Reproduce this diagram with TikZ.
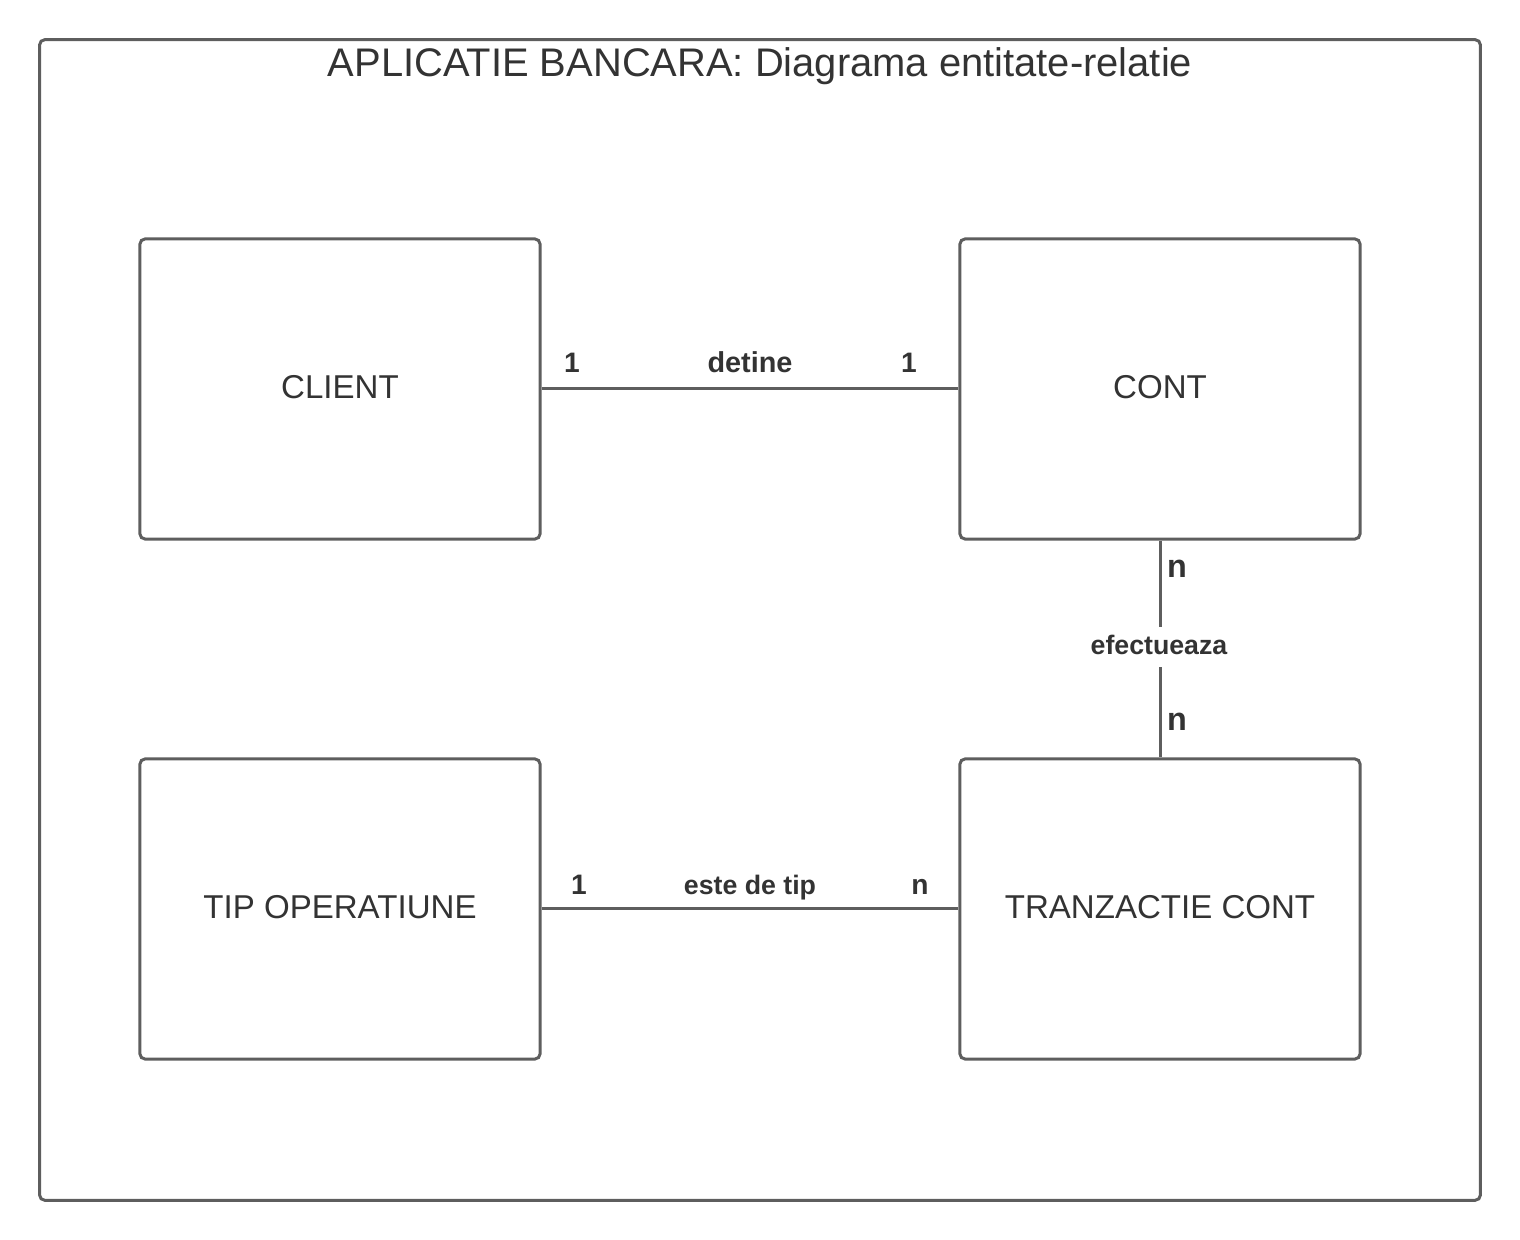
\documentclass[tikz,border=0pt]{standalone}
\usepackage{fontspec}
\setmainfont{Liberation Sans}
\definecolor{linec}{HTML}{5E5E5E}
\definecolor{textc}{HTML}{333333}
\tikzset{
  entity/.style={draw=linec, line width=0.85pt, rounded corners=1.5pt, minimum width=4cm, minimum height=3cm, inner sep=0pt, text=textc, font=\fontsize{9.4pt}{11pt}\selectfont},
  conn/.style={draw=linec, line width=0.85pt},
  lbl/.style={text=textc, inner sep=1pt, anchor=base, font=\fontsize{8pt}{9.6pt}\selectfont\bfseries},
  lblsmall/.style={lbl, font=\fontsize{7.6pt}{9pt}\selectfont\bfseries},
  lblbig/.style={lbl, font=\fontsize{9.2pt}{11pt}\selectfont\bfseries},
}
\begin{document}
\begin{tikzpicture}[x=0.01cm,y=-0.01cm]
\useasboundingbox (0,0) rectangle (1520,1240);
\node[draw=linec, line width=0.85pt, rounded corners=1.5pt, minimum width=14.4cm, minimum height=11.6cm, inner sep=0pt] (frame) at (760,620) {};
\node[text=textc, inner sep=0pt, anchor=base, font=\fontsize{11.35pt}{13pt}\selectfont] (title) at (760,77) {APLICATIE BANCARA: Diagrama entitate-relatie};
\node[entity] (client) at (340,389) {\raisebox{1pt}{CLIENT}};
\node[entity] (cont) at (1160,389) {\raisebox{1pt}{CONT}};
\node[entity] (tip) at (340,909) {\raisebox{1pt}{TIP OPERATIUNE}};
\node[entity] (tranz) at (1160,909) {\raisebox{1pt}{TRANZACTIE CONT}};
\draw[conn] (client.east) -- (cont.west);
\draw[conn] (tip.east) -- (tranz.west);
\draw[conn] (cont.south) -- (tranz.north);
\node[lblsmall, fill=white, inner sep=0pt, text height=8pt, text depth=3.5pt] (efect) at (1159,655) {efectueaza};
\node[lbl] (l1) at (572,373) {1};
\node[lbl, font=\fontsize{8.2pt}{9.6pt}\selectfont\bfseries] (detine) at (750,373) {detine};
\node[lbl] (l2) at (909,373) {1};
\node[lblbig] (n1) at (1177,578) {n};
\node[lblbig] (n2) at (1177,731) {n};
\node[lbl] (l3) at (579,895) {1};
\node[lblsmall] (estetip) at (750,895) {este de tip};
\node[lbl] (n3) at (920,895) {n};
\end{tikzpicture}
\end{document}
